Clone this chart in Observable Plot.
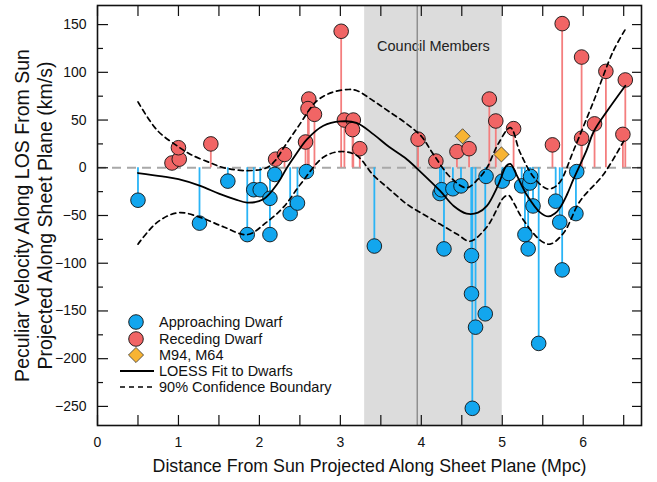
<!DOCTYPE html>
<html>
<head>
<meta charset="utf-8">
<script src="https://cdn.jsdelivr.net/npm/d3@7"></script>
<script src="https://cdn.jsdelivr.net/npm/@observablehq/plot@0.6"></script>
<style>
  body { margin: 0; background: #fff; font-family: "Liberation Sans", Arial, sans-serif; }
  #wrap { position: relative; width: 657px; height: 482px; }
  #legend { position: absolute; left: 0; top: 0; pointer-events: none; }
</style>
</head>
<body>
<div id="wrap"></div>
<script>
// ---------- data ----------
const approachX = [0.50,1.26,1.61,1.85,1.93,2.01,2.13,2.13,2.19,2.38,2.47,2.58,3.42,4.23,4.25,4.28,4.39,4.49,4.62,4.62,4.63,4.67,4.79,4.80,5.00,5.08,5.24,5.28,5.32,5.34,5.35,5.38,5.45,5.66,5.71,5.74,5.91,5.92];
const approachV = [-34,-58,-14,-70,-23,-23,-32,-70,-7,-48,-37,-4,-82,-27,-23,-85,-22,-19,-92,-132,-252,-167,-153,-9,-14,-6,-19,-70,-85,-16,-9,-40,-184,-35,-57,-107,-48,-4];

const recedeX = [0.92,1.01,1.00,1.40,2.20,2.31,2.57,2.61,2.60,2.68,3.01,3.05,3.16,3.15,3.24,3.96,4.18,4.44,4.59,4.84,4.92,5.14,5.62,5.74,5.98,5.98,6.14,6.28,6.52,6.49];
const recedeV = [5,9,21,25,9,14,27,72,62,56,143,50,50,40,20,30,7,17,20,72,49,41,24,151,116,31,46,101,92,35];

const giantsX = [4.51,4.99];   // M94, M64
const giantsV = [33,14];

const loessX = [0.5,0.8,1.0,1.27,1.5,1.7,1.85,2.05,2.22,2.34,2.45,2.59,2.79,3.0,3.2,3.41,3.6,3.82,4.0,4.23,4.4,4.56,4.7,4.81,4.95,5.05,5.1,5.18,5.3,5.47,5.57,5.65,5.72,5.8,5.88,6.04,6.13,6.3,6.52];
const loessV = [-5.5,-9,-12,-19,-27,-33,-36.5,-33,-17,0,14,30,44,48.5,47,35,22,9,-5,-24,-40,-48,-47,-40,-18,2,4,-8,-28,-47,-51,-48,-41,-28,-12,18,38,60,86];

const upperX = [0.5,0.74,1.0,1.15,1.4,1.56,1.85,2.09,2.2,2.3,2.47,2.71,2.9,3.1,3.2,3.41,3.6,3.82,4.0,4.15,4.36,4.56,4.7,4.81,4.95,5.1,5.22,5.39,5.55,5.63,5.72,5.88,6.13,6.37,6.52];
const upperV = [69,39,22,14,5,0,-3,0,8,21,42,70,79,82,81,70,59,46,33,14,-10,-21,-12,0,25,42,16,-10,-22,-21,-14,18,70,122,145];

const lowerX = [0.5,0.74,1.0,1.27,1.56,1.85,2.09,2.3,2.51,2.79,3.0,3.2,3.41,3.6,3.82,4.03,4.23,4.45,4.6,4.81,5.02,5.08,5.15,5.24,5.47,5.59,5.76,5.96,6.25,6.5];
const lowerV = [-80,-57,-47,-52,-62,-70,-57,-41,-17,11,17,13,-8,-22,-38,-49,-59,-70,-77,-62,-31,-29,-38,-52,-76,-80,-68,-35,-7,28];

const councilRange = [3.3, 5.0];
const councilLine = [3.95];
const councilLabel = "Council Members";

const xTicks = [0,0.5,1,1.5,2,2.5,3,3.5,4,4.5,5,5.5,6,6.5];
const xLabels = [0,1,2,3,4,5,6];
const yMajor = [-250,-200,-150,-100,-50,0,50,100,150];
const yMinor = [-225,-175,-125,-75,-25,25,75,125];

const legendItems = ["Approaching Dwarf","Receding Dwarf","M94, M64","LOESS Fit to Dwarfs","90% Confidence Boundary"];

// ---------- build tables ----------
const approach = approachX.map((x,i)=>({x, v: approachV[i]}));
const recede = recedeX.map((x,i)=>({x, v: recedeV[i]}));
const giants = giantsX.map((x,i)=>({x, v: giantsV[i]}));
const loess = loessX.map((x,i)=>({x, v: loessV[i]}));
const upper = upperX.map((x,i)=>({x, v: upperV[i]}));
const lower = lowerX.map((x,i)=>({x, v: lowerV[i]}));

const BLUE = "#12a6ee", BLUE_STEM = "#2ab4f6";
const RED = "#f16565", RED_STEM = "#f47e7e";
const GOLD = "#f8b433";
const FONT = "'Liberation Sans', Arial, sans-serif";

const chart = Plot.plot({
  width: 657, height: 482,
  marginLeft: 97, marginRight: 16, marginTop: 5, marginBottom: 57,
  style: { fontFamily: FONT, fontSize: "14px", color: "#111", background: "#fff" },
  x: { domain: [0, 6.72] },
  y: { domain: [-270, 170] },
  marks: [
    Plot.rect([councilRange], { x1: d => d[0], x2: d => d[1], fill: "#dcdcdc" }),
    Plot.text([councilLabel], { x: (councilRange[0]+councilRange[1])/2, frameAnchor: "top", dy: 41, lineAnchor: "middle", text: d => d, fontSize: 14.5, fill: "#222" }),
    Plot.ruleX(councilLine, { stroke: "#8f8f8f", strokeWidth: 1.5 }),
    Plot.ruleY([0], { stroke: "#a8a8a8", strokeWidth: 1.8, strokeDasharray: "9,6" }),
    Plot.ruleX(approach, { x: "x", y1: 0, y2: "v", stroke: BLUE_STEM, strokeWidth: 1.8 }),
    Plot.ruleX(recede, { x: "x", y1: 0, y2: "v", stroke: RED_STEM, strokeWidth: 1.8 }),
    Plot.dot(approach, { x: "x", y: "v", r: 7.3, fill: BLUE, stroke: "#111", strokeWidth: 0.9 }),
    Plot.dot(recede, { x: "x", y: "v", r: 7.3, fill: RED, stroke: "#111", strokeWidth: 0.9 }),
    Plot.line(upper, { x: "x", y: "v", curve: "catmull-rom", stroke: "#000", strokeWidth: 1.7, strokeDasharray: "5,4" }),
    Plot.line(lower, { x: "x", y: "v", curve: "catmull-rom", stroke: "#000", strokeWidth: 1.7, strokeDasharray: "5,4" }),
    Plot.line(loess, { x: "x", y: "v", curve: "catmull-rom", stroke: "#000", strokeWidth: 1.8 }),
    Plot.dot(giants, { x: "x", y: "v", symbol: "diamond2", r: 6.8, fill: GOLD, stroke: "#333", strokeWidth: 0.8 }),
    // axes: inward ticks on all four sides, labels bottom/left
    Plot.axisX(xTicks, { anchor: "bottom", tickSize: -10, tickFormat: () => "", label: null, strokeWidth: 1.2 }),
    Plot.axisX(xTicks, { anchor: "top", tickSize: -10, tickFormat: () => "", label: null, strokeWidth: 1.2 }),
    Plot.axisX(xLabels, { anchor: "bottom", tickSize: 0, tickPadding: 12, label: null, fontSize: 14 }),
    Plot.axisY(yMajor, { anchor: "left", tickSize: -11, tickFormat: () => "", label: null, strokeWidth: 1.2 }),
    Plot.axisY(yMinor, { anchor: "left", tickSize: -6, tickFormat: () => "", label: null, strokeWidth: 1.2 }),
    Plot.axisY(yMajor.concat(yMinor), { anchor: "right", tickSize: -10, tickFormat: () => "", label: null, strokeWidth: 1.2 }),
    Plot.axisY(yMajor, { anchor: "left", tickSize: 0, tickPadding: 11, label: null, fontSize: 14 }),
    Plot.frame({ stroke: "#111", strokeWidth: 1.6 }),
    // axis titles
    Plot.text(["Distance From Sun Projected Along Sheet Plane (Mpc)"], { frameAnchor: "bottom", dy: 41, textAnchor: "middle", lineAnchor: "middle", text: d => d, fontSize: 17.8, fill: "#111" }),
    Plot.text(["Peculiar Velocity Along LOS From Sun\nProjected Along Sheet Plane (km/s)"], { frameAnchor: "left", dx: -64, rotate: -90, textAnchor: "middle", lineAnchor: "middle", lineHeight: 1.15, text: d => d, fontSize: 19.5, fill: "#111" })
  ]
});
document.getElementById("wrap").appendChild(chart);

// ---------- legend overlay ----------
const lg = d3.select("#wrap").append("svg").attr("id","legend").attr("width",657).attr("height",482)
  .style("font-family", FONT).style("font-size","14.5px");
const rows = [322, 339, 355, 371, 387];
const symX = 136, txtX = 159;
lg.append("circle").attr("cx", symX).attr("cy", rows[0]).attr("r", 7.3).attr("fill", BLUE).attr("stroke","#111").attr("stroke-width",0.9);
lg.append("circle").attr("cx", symX).attr("cy", rows[1]).attr("r", 7.3).attr("fill", RED).attr("stroke","#111").attr("stroke-width",0.9);
lg.append("path").attr("d", d3.symbol(d3.symbolDiamond2, Math.PI*6.8*6.8)()).attr("transform",`translate(${symX},${rows[2]})`)
  .attr("fill", GOLD).attr("stroke","#333").attr("stroke-width",0.8);
lg.append("line").attr("x1",120).attr("x2",154).attr("y1",rows[3]).attr("y2",rows[3]).attr("stroke","#000").attr("stroke-width",1.8);
lg.append("line").attr("x1",120).attr("x2",154).attr("y1",rows[4]).attr("y2",rows[4]).attr("stroke","#000").attr("stroke-width",1.7).attr("stroke-dasharray","5,4");
legendItems.forEach((t,i) => {
  lg.append("text").attr("x", txtX).attr("y", rows[i]).attr("dy","0.35em").attr("fill","#111").text(t);
});
</script>
</body>
</html>
